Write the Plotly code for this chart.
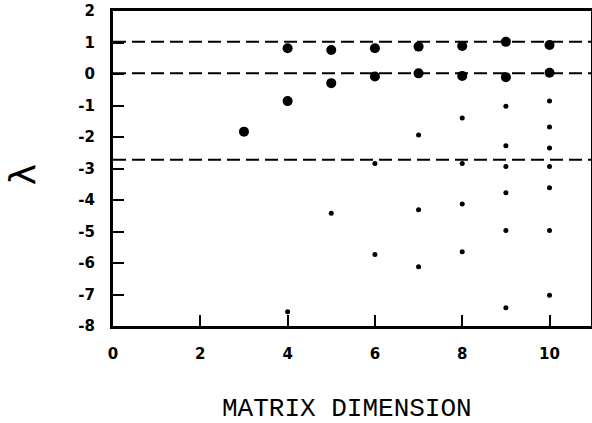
import plotly.graph_objects as go

# Large dots (leading eigenvalues)
large_x = [3, 4, 4, 5, 5, 6, 6, 7, 7, 8, 8, 9, 9, 10, 10]
large_y = [-1.83, 0.82, -0.86, 0.76, -0.29, 0.82, -0.08, 0.87, 0.02, 0.89, -0.06, 1.02, -0.10, 0.92, 0.04]

# Small dots (other eigenvalues)
small_x = [4, 5, 6, 6, 7, 7, 7, 8, 8, 8, 8,
           9, 9, 9, 9, 9, 9, 10, 10, 10, 10, 10, 10, 10]
small_y = [-7.55, -4.42, -2.84, -5.73, -1.94, -4.31, -6.12, -1.40, -2.84, -4.13, -5.64,
           -1.02, -2.28, -2.94, -3.77, -4.97, -7.42, -0.86, -1.68, -2.35, -2.94, -3.61, -4.97, -7.02]

# Dashed reference levels
ref_levels = [1.02, 0.02, -2.72]

x_ticks = [0, 2, 4, 6, 8, 10]
x_ticktext = ["0", "2", "4", "6", "8", "10"]
y_ticks = [-8, -7, -6, -5, -4, -3, -2, -1, 0, 1, 2]
y_ticktext = ["-8", "-7", "-6", "-5", "-4", "-3", "-2", "-1", "0", "1", "2"]

fig = go.Figure()
fig.add_trace(go.Scatter(x=large_x, y=large_y, mode="markers",
                         marker=dict(color="black", size=10), showlegend=False))
fig.add_trace(go.Scatter(x=small_x, y=small_y, mode="markers",
                         marker=dict(color="black", size=5), showlegend=False))

for lvl in ref_levels:
    fig.add_shape(type="line", xref="paper", x0=0, x1=1, yref="y", y0=lvl, y1=lvl,
                  line=dict(color="black", width=2, dash="13px,6px"))

tickfont = dict(family="DejaVu Sans", size=15, color="black", weight="bold")

fig.update_xaxes(range=[0, 10.95], tickvals=x_ticks, ticktext=x_ticktext,
                 ticks="inside", ticklen=11, tickwidth=2, tickcolor="black",
                 showline=True, linewidth=3, linecolor="black", mirror=True,
                 showgrid=False, zeroline=False, tickfont=tickfont,
                 ticklabelstandoff=12, automargin=False)
fig.update_yaxes(range=[-8, 2], tickvals=y_ticks, ticktext=y_ticktext,
                 ticks="inside", ticklen=11, tickwidth=2, tickcolor="black",
                 showline=True, linewidth=3, linecolor="black", mirror=True,
                 showgrid=False, zeroline=False, tickfont=tickfont,
                 ticklabelstandoff=12, automargin=False)

fig.add_annotation(text="MATRIX DIMENSION", xref="paper", yref="paper",
                   x=0.4895, y=-0.265, showarrow=False, xanchor="center", yanchor="middle",
                   font=dict(family="Liberation Mono", size=26, color="black"))
fig.add_annotation(text="λ", xref="paper", yref="paper",
                   x=-0.19, y=0.479, showarrow=False, xanchor="center", yanchor="middle",
                   textangle=-90,
                   font=dict(family="DejaVu Sans", size=36, color="black"))

fig.update_layout(width=592, height=423, paper_bgcolor="white", plot_bgcolor="white",
                  margin=dict(l=113, r=1, t=11, b=97))

fig.write_html("out.html", config={"displayModeBar": False},
               post_script="document.body.style.margin='0';document.body.style.overflow='hidden';")
